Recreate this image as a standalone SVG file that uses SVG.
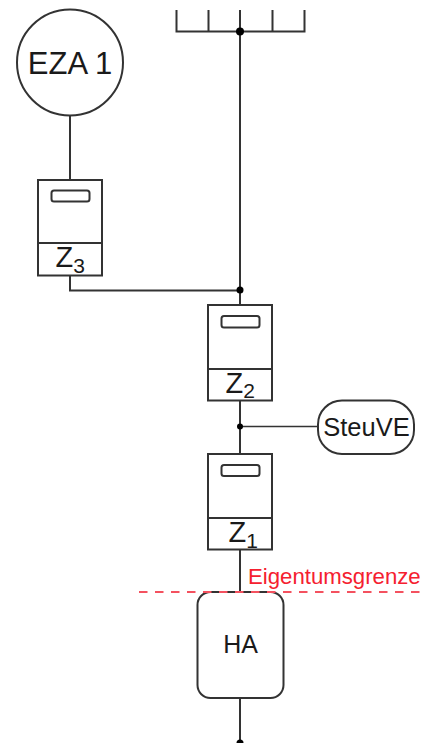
<svg xmlns="http://www.w3.org/2000/svg" width="428" height="743" viewBox="0 0 428 743">
<style>
.l{fill:none;stroke:#333;stroke-width:2}
.b{fill:#fff;stroke:#333;stroke-width:2}
.t{font-family:"Liberation Sans",Arial,sans-serif;fill:#1a1a1a}
.d{fill:#000}
</style>
<rect width="428" height="743" fill="#fff"/>
<g id="connectors">
<path class="l" d="M176.500 10V31.500H304.500V10M208.500 10V31.500M272.500 10V31.500M240 10V305"/>
<path class="l" d="M70 115V180M70 276V290.500H240"/>
<path class="l" d="M240 400V454M240 550V592M240 698V743"/>
<path class="l" style="stroke-width:1.500" d="M240 426.500H318"/>
<circle class="d" cx="240" cy="31.500" r="4"/>
<circle class="d" cx="240" cy="290" r="3.500"/>
<circle class="d" cx="240" cy="426.500" r="3"/>
<circle class="d" cx="240" cy="743" r="3.500"/>
</g>
<g id="eza1">
<circle class="b" cx="70" cy="62.500" r="53"/>
<text class="t" x="70" y="74" font-size="31" text-anchor="middle">EZA 1</text>
</g>
<g id="z3">
<rect class="b" x="38" y="180" width="64" height="95.500"/>
<path class="l" d="M38 243H102"/>
<rect class="l" x="51.500" y="190.500" width="38" height="11" rx="2.500"/>
<text class="t" x="55.500" y="267" font-size="29">Z<tspan font-size="21" dy="5.500">3</tspan></text>
</g>
<g id="z2">
<rect class="b" x="208" y="305" width="64" height="95.500"/>
<path class="l" d="M208 369H272"/>
<rect class="l" x="221.500" y="316" width="38" height="11.500" rx="2.500"/>
<text class="t" x="225.500" y="392.500" font-size="29">Z<tspan font-size="21" dy="5">2</tspan></text>
</g>
<g id="z1">
<rect class="b" x="208" y="454" width="64" height="95.500"/>
<path class="l" d="M208 518H272"/>
<rect class="l" x="221.500" y="465" width="38" height="11" rx="2.500"/>
<text class="t" x="228.500" y="542" font-size="29">Z<tspan font-size="21" dy="5.500">1</tspan></text>
</g>
<g id="steuve">
<rect class="b" x="318" y="400.500" width="96" height="53.500" rx="24"/>
<text class="t" x="366.500" y="436" font-size="25.500" text-anchor="middle">SteuVE</text>
</g>
<g id="ha">
<rect class="b" x="197.500" y="592" width="86" height="106" rx="13"/>
<text class="t" x="240.500" y="653" font-size="25" text-anchor="middle">HA</text>
</g>
<g id="grenze">
<path fill="none" stroke="#f4515f" stroke-width="2" stroke-dasharray="8.500 7.500" d="M139 592H420"/>
<text x="248" y="584" font-family="'Liberation Sans',Arial,sans-serif" font-size="22.200" fill="#f5202f">Eigentumsgrenze</text>
</g>
</svg>
